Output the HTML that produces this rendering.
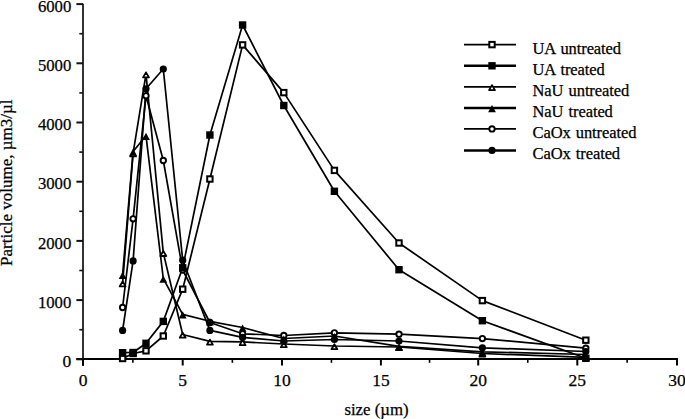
<!DOCTYPE html>
<html><head><meta charset="utf-8"><style>
html,body{margin:0;padding:0;background:#fff;}
body{width:685px;height:419px;overflow:hidden;}
svg{display:block;}
.t{font-family:"Liberation Serif",serif;font-size:17.5px;fill:#000;stroke:#000;stroke-width:0.25px;}
.a{font-family:"Liberation Serif",serif;font-size:17px;fill:#000;stroke:#000;stroke-width:0.25px;}
.l{font-family:"Liberation Serif",serif;font-size:16.5px;fill:#000;stroke:#000;stroke-width:0.25px;letter-spacing:-0.1px;word-spacing:1.2px;}
</style></head><body>
<svg width="685" height="419" viewBox="0 0 685 419">
<path d="M83 3.8V366" stroke="#333" stroke-width="2" fill="none"/>
<path d="M76.4 359H678" stroke="#000" stroke-width="2" fill="none"/>
<path d="M76.4 359.30H83" stroke="#111" stroke-width="2"/>
<path d="M79.3 329.70H83" stroke="#111" stroke-width="1.6"/>
<path d="M76.4 300.10H83" stroke="#111" stroke-width="2"/>
<path d="M79.3 270.50H83" stroke="#111" stroke-width="1.6"/>
<path d="M76.4 240.90H83" stroke="#111" stroke-width="2"/>
<path d="M79.3 211.30H83" stroke="#111" stroke-width="1.6"/>
<path d="M76.4 181.70H83" stroke="#111" stroke-width="2"/>
<path d="M79.3 152.10H83" stroke="#111" stroke-width="1.6"/>
<path d="M76.4 122.50H83" stroke="#111" stroke-width="2"/>
<path d="M79.3 92.90H83" stroke="#111" stroke-width="1.6"/>
<path d="M76.4 63.30H83" stroke="#111" stroke-width="2"/>
<path d="M79.3 33.70H83" stroke="#111" stroke-width="1.6"/>
<path d="M76.4 4.10H83" stroke="#111" stroke-width="2"/>
<path d="M83.00 359V365.5" stroke="#000" stroke-width="2"/>
<path d="M132.85 359V362.8" stroke="#000" stroke-width="1.6"/>
<path d="M182.70 359V365.5" stroke="#000" stroke-width="2"/>
<path d="M232.35 359V362.8" stroke="#000" stroke-width="1.6"/>
<path d="M282.00 359V365.5" stroke="#000" stroke-width="2"/>
<path d="M331.45 359V362.8" stroke="#000" stroke-width="1.6"/>
<path d="M380.90 359V365.5" stroke="#000" stroke-width="2"/>
<path d="M429.55 359V362.8" stroke="#000" stroke-width="1.6"/>
<path d="M478.20 359V365.5" stroke="#000" stroke-width="2"/>
<path d="M527.75 359V362.8" stroke="#000" stroke-width="1.6"/>
<path d="M577.30 359V365.5" stroke="#000" stroke-width="2"/>
<path d="M627.15 359V362.8" stroke="#000" stroke-width="1.6"/>
<path d="M677.00 359V365.5" stroke="#000" stroke-width="2"/>
<text x="71.3" y="366.90" text-anchor="end" class="t">0</text>
<text x="71.3" y="307.70" text-anchor="end" class="t" textLength="33.4" lengthAdjust="spacingAndGlyphs">1000</text>
<text x="71.3" y="248.50" text-anchor="end" class="t" textLength="33.4" lengthAdjust="spacingAndGlyphs">2000</text>
<text x="71.3" y="189.30" text-anchor="end" class="t" textLength="33.4" lengthAdjust="spacingAndGlyphs">3000</text>
<text x="71.3" y="130.10" text-anchor="end" class="t" textLength="33.4" lengthAdjust="spacingAndGlyphs">4000</text>
<text x="71.3" y="70.90" text-anchor="end" class="t" textLength="33.4" lengthAdjust="spacingAndGlyphs">5000</text>
<text x="71.3" y="11.70" text-anchor="end" class="t" textLength="33.4" lengthAdjust="spacingAndGlyphs">6000</text>
<text x="83.00" y="386" text-anchor="middle" class="t">0</text>
<text x="182.70" y="386" text-anchor="middle" class="t">5</text>
<text x="282.00" y="386" text-anchor="middle" class="t">10</text>
<text x="380.90" y="386" text-anchor="middle" class="t">15</text>
<text x="478.20" y="386" text-anchor="middle" class="t">20</text>
<text x="577.30" y="386" text-anchor="middle" class="t">25</text>
<text x="677.00" y="386" text-anchor="middle" class="t">30</text>
<text x="376.5" y="415" text-anchor="middle" class="a" style="font-size:16.8px">size (µm)</text>
<text transform="translate(12.3 182.7) rotate(-90)" text-anchor="middle" class="a">Particle volume, µm3/µl</text>
<polyline points="122.60,358.50 133.10,353.50 146.00,350.80 163.30,336.00 182.70,289.20 209.90,179.00 242.60,44.90 283.80,92.60 334.40,170.40 399.00,243.00 482.40,300.60 585.85,340.20" fill="none" stroke="#000" stroke-width="1.7" stroke-linejoin="round"/>
<polyline points="122.60,352.70 133.10,352.50 146.00,343.30 163.30,321.40 182.70,267.80 209.90,135.00 242.60,25.00 283.80,105.50 334.40,191.30 399.00,269.70 482.40,320.70 585.85,358.30" fill="none" stroke="#000" stroke-width="1.7" stroke-linejoin="round"/>
<polyline points="122.60,283.20 133.10,153.20 146.00,74.20 163.30,252.80 182.70,334.50 209.90,341.40 242.60,341.90 283.80,344.00 334.40,346.00 399.00,347.00 482.40,353.50 585.85,357.40" fill="none" stroke="#000" stroke-width="1.7" stroke-linejoin="round"/>
<polyline points="122.60,274.80 133.10,151.50 146.00,135.80 163.30,278.60 182.70,314.40 209.90,321.30 242.60,327.50 283.80,338.50 334.40,336.00 399.00,346.30 482.40,351.80 585.85,354.50" fill="none" stroke="#000" stroke-width="1.7" stroke-linejoin="round"/>
<polyline points="122.60,307.50 133.10,218.80 146.00,95.80 163.30,160.50 182.70,270.00 209.90,322.50 242.60,333.80 283.80,335.50 334.40,332.80 399.00,334.20 482.40,338.60 585.85,348.20" fill="none" stroke="#000" stroke-width="1.7" stroke-linejoin="round"/>
<polyline points="122.60,330.40 133.10,260.90 146.00,88.80 163.30,69.00 182.70,260.20 209.90,330.40 242.60,337.40 283.80,341.00 334.40,339.50 399.00,341.00 482.40,347.80 585.85,351.50" fill="none" stroke="#000" stroke-width="1.7" stroke-linejoin="round"/>
<rect x="119.90" y="355.80" width="5.4" height="5.4" fill="#fff" stroke="#000" stroke-width="2"/>
<rect x="130.40" y="350.80" width="5.4" height="5.4" fill="#fff" stroke="#000" stroke-width="2"/>
<rect x="143.30" y="348.10" width="5.4" height="5.4" fill="#fff" stroke="#000" stroke-width="2"/>
<rect x="160.60" y="333.30" width="5.4" height="5.4" fill="#fff" stroke="#000" stroke-width="2"/>
<rect x="180.00" y="286.50" width="5.4" height="5.4" fill="#fff" stroke="#000" stroke-width="2"/>
<rect x="207.20" y="176.30" width="5.4" height="5.4" fill="#fff" stroke="#000" stroke-width="2"/>
<rect x="239.90" y="42.20" width="5.4" height="5.4" fill="#fff" stroke="#000" stroke-width="2"/>
<rect x="281.10" y="89.90" width="5.4" height="5.4" fill="#fff" stroke="#000" stroke-width="2"/>
<rect x="331.70" y="167.70" width="5.4" height="5.4" fill="#fff" stroke="#000" stroke-width="2"/>
<rect x="396.30" y="240.30" width="5.4" height="5.4" fill="#fff" stroke="#000" stroke-width="2"/>
<rect x="479.70" y="297.90" width="5.4" height="5.4" fill="#fff" stroke="#000" stroke-width="2"/>
<rect x="583.15" y="337.50" width="5.4" height="5.4" fill="#fff" stroke="#000" stroke-width="2"/>
<path d="M122.60 281.40L125.55 286.40L119.65 286.40Z" fill="#fff" stroke="#000" stroke-width="1.8" stroke-linejoin="round"/>
<path d="M133.10 151.40L136.05 156.40L130.15 156.40Z" fill="#fff" stroke="#000" stroke-width="1.8" stroke-linejoin="round"/>
<path d="M146.00 72.40L148.95 77.40L143.05 77.40Z" fill="#fff" stroke="#000" stroke-width="1.8" stroke-linejoin="round"/>
<path d="M163.30 251.00L166.25 256.00L160.35 256.00Z" fill="#fff" stroke="#000" stroke-width="1.8" stroke-linejoin="round"/>
<path d="M182.70 332.70L185.65 337.70L179.75 337.70Z" fill="#fff" stroke="#000" stroke-width="1.8" stroke-linejoin="round"/>
<path d="M209.90 339.60L212.85 344.60L206.95 344.60Z" fill="#fff" stroke="#000" stroke-width="1.8" stroke-linejoin="round"/>
<path d="M242.60 340.10L245.55 345.10L239.65 345.10Z" fill="#fff" stroke="#000" stroke-width="1.8" stroke-linejoin="round"/>
<path d="M283.80 342.20L286.75 347.20L280.85 347.20Z" fill="#fff" stroke="#000" stroke-width="1.8" stroke-linejoin="round"/>
<path d="M334.40 344.20L337.35 349.20L331.45 349.20Z" fill="#fff" stroke="#000" stroke-width="1.8" stroke-linejoin="round"/>
<path d="M399.00 345.20L401.95 350.20L396.05 350.20Z" fill="#fff" stroke="#000" stroke-width="1.8" stroke-linejoin="round"/>
<path d="M482.40 351.70L485.35 356.70L479.45 356.70Z" fill="#fff" stroke="#000" stroke-width="1.8" stroke-linejoin="round"/>
<path d="M585.85 355.60L588.80 360.60L582.90 360.60Z" fill="#fff" stroke="#000" stroke-width="1.8" stroke-linejoin="round"/>
<circle cx="122.60" cy="307.50" r="2.7" fill="#fff" stroke="#000" stroke-width="1.9"/>
<circle cx="133.10" cy="218.80" r="2.7" fill="#fff" stroke="#000" stroke-width="1.9"/>
<circle cx="146.00" cy="95.80" r="2.7" fill="#fff" stroke="#000" stroke-width="1.9"/>
<circle cx="163.30" cy="160.50" r="2.7" fill="#fff" stroke="#000" stroke-width="1.9"/>
<circle cx="182.70" cy="270.00" r="2.7" fill="#fff" stroke="#000" stroke-width="1.9"/>
<circle cx="209.90" cy="322.50" r="2.7" fill="#fff" stroke="#000" stroke-width="1.9"/>
<circle cx="242.60" cy="333.80" r="2.7" fill="#fff" stroke="#000" stroke-width="1.9"/>
<circle cx="283.80" cy="335.50" r="2.7" fill="#fff" stroke="#000" stroke-width="1.9"/>
<circle cx="334.40" cy="332.80" r="2.7" fill="#fff" stroke="#000" stroke-width="1.9"/>
<circle cx="399.00" cy="334.20" r="2.7" fill="#fff" stroke="#000" stroke-width="1.9"/>
<circle cx="482.40" cy="338.60" r="2.7" fill="#fff" stroke="#000" stroke-width="1.9"/>
<circle cx="585.85" cy="348.20" r="2.7" fill="#fff" stroke="#000" stroke-width="1.9"/>
<rect x="118.90" y="349.00" width="7.4" height="7.4" fill="#000"/>
<rect x="129.40" y="348.80" width="7.4" height="7.4" fill="#000"/>
<rect x="142.30" y="339.60" width="7.4" height="7.4" fill="#000"/>
<rect x="159.60" y="317.70" width="7.4" height="7.4" fill="#000"/>
<rect x="179.00" y="264.10" width="7.4" height="7.4" fill="#000"/>
<rect x="206.20" y="131.30" width="7.4" height="7.4" fill="#000"/>
<rect x="238.90" y="21.30" width="7.4" height="7.4" fill="#000"/>
<rect x="280.10" y="101.80" width="7.4" height="7.4" fill="#000"/>
<rect x="330.70" y="187.60" width="7.4" height="7.4" fill="#000"/>
<rect x="395.30" y="266.00" width="7.4" height="7.4" fill="#000"/>
<rect x="478.70" y="317.00" width="7.4" height="7.4" fill="#000"/>
<rect x="582.15" y="354.60" width="7.4" height="7.4" fill="#000"/>
<path d="M122.60 271.70L126.50 279.00L118.70 279.00Z" fill="#000"/>
<path d="M133.10 148.40L137.00 155.70L129.20 155.70Z" fill="#000"/>
<path d="M146.00 132.70L149.90 140.00L142.10 140.00Z" fill="#000"/>
<path d="M163.30 275.50L167.20 282.80L159.40 282.80Z" fill="#000"/>
<path d="M182.70 311.30L186.60 318.60L178.80 318.60Z" fill="#000"/>
<path d="M209.90 318.20L213.80 325.50L206.00 325.50Z" fill="#000"/>
<path d="M242.60 324.40L246.50 331.70L238.70 331.70Z" fill="#000"/>
<path d="M283.80 335.40L287.70 342.70L279.90 342.70Z" fill="#000"/>
<path d="M334.40 332.90L338.30 340.20L330.50 340.20Z" fill="#000"/>
<path d="M399.00 343.20L402.90 350.50L395.10 350.50Z" fill="#000"/>
<path d="M482.40 348.70L486.30 356.00L478.50 356.00Z" fill="#000"/>
<path d="M585.85 351.40L589.75 358.70L581.95 358.70Z" fill="#000"/>
<circle cx="122.60" cy="330.40" r="3.6" fill="#000"/>
<circle cx="133.10" cy="260.90" r="3.6" fill="#000"/>
<circle cx="146.00" cy="88.80" r="3.6" fill="#000"/>
<circle cx="163.30" cy="69.00" r="3.6" fill="#000"/>
<circle cx="182.70" cy="260.20" r="3.6" fill="#000"/>
<circle cx="209.90" cy="330.40" r="3.6" fill="#000"/>
<circle cx="242.60" cy="337.40" r="3.6" fill="#000"/>
<circle cx="283.80" cy="341.00" r="3.6" fill="#000"/>
<circle cx="334.40" cy="339.50" r="3.6" fill="#000"/>
<circle cx="399.00" cy="341.00" r="3.6" fill="#000"/>
<circle cx="482.40" cy="347.80" r="3.6" fill="#000"/>
<circle cx="585.85" cy="351.50" r="3.6" fill="#000"/>
<path d="M464 44.6H516" stroke="#000" stroke-width="1.9"/>
<rect x="489.30" y="41.90" width="5.4" height="5.4" fill="#fff" stroke="#000" stroke-width="2"/>
<text x="532.5" y="53.60" class="l">UA untreated</text>
<path d="M464 65.8H516" stroke="#000" stroke-width="2.5"/>
<rect x="488.30" y="62.10" width="7.4" height="7.4" fill="#000"/>
<text x="532.5" y="74.80" class="l">UA treated</text>
<path d="M464 86.9H516" stroke="#000" stroke-width="1.9"/>
<path d="M492.00 85.10L494.95 90.10L489.05 90.10Z" fill="#fff" stroke="#000" stroke-width="1.8" stroke-linejoin="round"/>
<text x="532.5" y="95.90" class="l">NaU untreated</text>
<path d="M464 108H516" stroke="#000" stroke-width="2.5"/>
<path d="M492.00 104.90L495.90 112.20L488.10 112.20Z" fill="#000"/>
<text x="532.5" y="117.00" class="l">NaU treated</text>
<path d="M464 128.9H516" stroke="#000" stroke-width="1.9"/>
<circle cx="492.00" cy="128.90" r="2.7" fill="#fff" stroke="#000" stroke-width="1.9"/>
<text x="532.5" y="137.90" class="l">CaOx untreated</text>
<path d="M464 150.4H516" stroke="#000" stroke-width="2.5"/>
<circle cx="492.00" cy="150.40" r="3.6" fill="#000"/>
<text x="532.5" y="159.40" class="l">CaOx treated</text>
</svg>
</body></html>
